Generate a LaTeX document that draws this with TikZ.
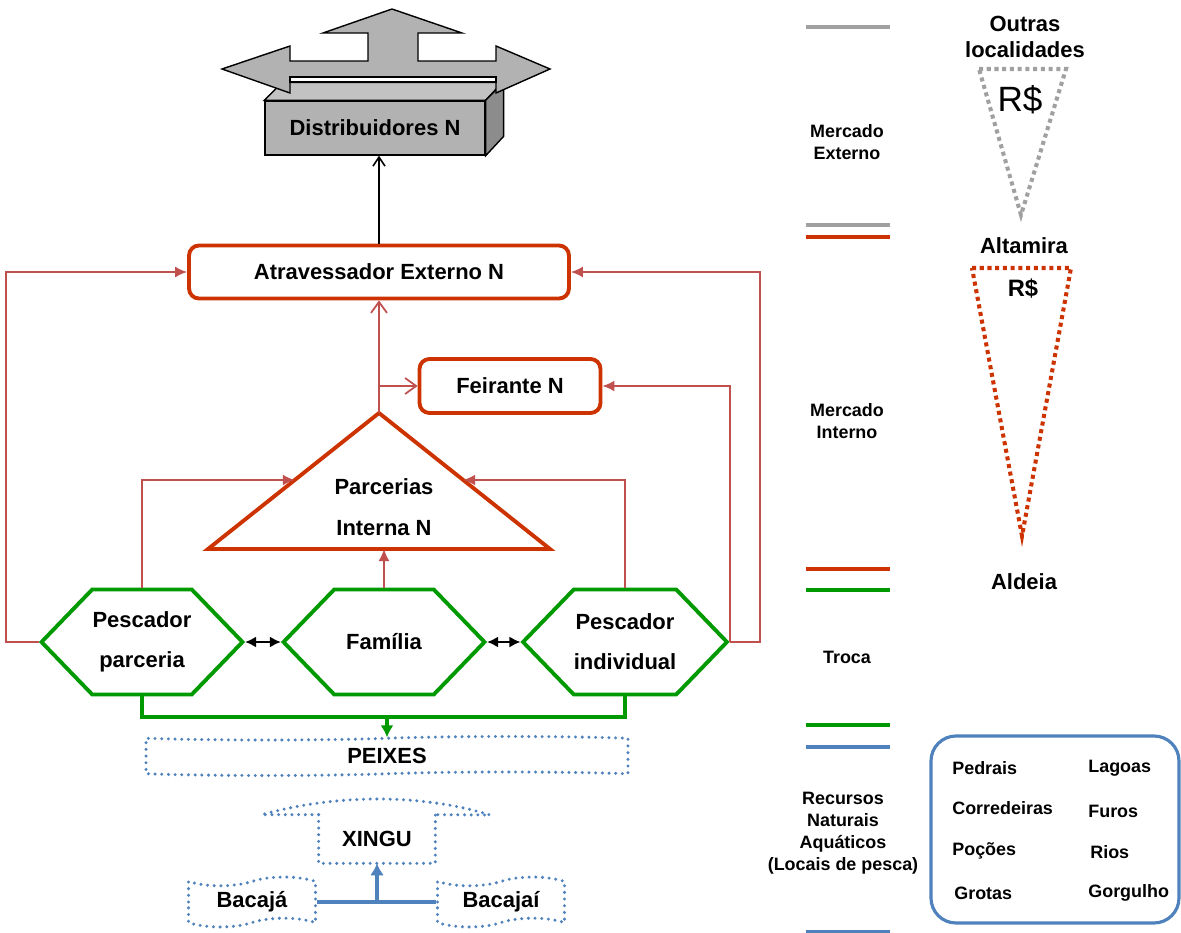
\documentclass[tikz,border=0pt]{standalone}
\usepackage{fontspec}
\setmainfont{Liberation Sans}
\usepackage{xcolor}
\usepackage{tikz}
\usetikzlibrary{arrows.meta,positioning,shapes.symbols,calc}

\definecolor{boxred}{RGB}{204,51,0}
\definecolor{linkred}{RGB}{192,80,77}
\definecolor{fishgreen}{RGB}{0,153,0}
\definecolor{riverblue}{RGB}{79,129,189}
\definecolor{leggrey}{RGB}{160,160,160}
\definecolor{frontgrey}{RGB}{178,178,178}
\definecolor{topgrey}{RGB}{194,194,194}
\definecolor{sidegrey}{RGB}{140,140,140}

\begin{document}
\begin{tikzpicture}[
  x=0.02cm, y=-0.02cm,
  txt/.style={font=\fontsize{12.5}{15}\selectfont\bfseries, align=center},
  small/.style={font=\fontsize{10.2}{12.5}\selectfont\bfseries, align=center},
  redbox/.style={rectangle, rounded corners=0.2cm, draw=boxred, line width=2.2pt, txt},
  hexa/.style={signal, signal to=east and west, signal pointer angle=92, draw=fishgreen, line width=2.2pt,
    minimum width=4.02cm, minimum height=2.1cm, inner sep=0pt, align=center, font=\fontsize{12.5}{22.7}\selectfont\bfseries},
  redline/.style={draw=linkred, line width=1pt},
  fullhead/.style={-{Latex[length=2.4mm,width=2.2mm]}},
  openhead/.style={-{Straight Barb[length=2.2mm,width=3.2mm]}},
  greenline/.style={draw=fishgreen, line width=2.2pt},
  blueline/.style={draw=riverblue, line width=2.2pt},
  bluedot/.style={draw=riverblue, line width=1.9pt, dash pattern=on 0pt off 3.8pt, line cap=round},
  tapebox/.style={tape, bluedot, txt},
  legline/.style={line width=2.6pt},
  bigdot/.style={line width=2.3pt, dash pattern=on 2.3pt off 2.1pt},
  item/.style={small, anchor=west, inner sep=0pt}
]
\useasboundingbox (0,0) rectangle (1181,933);

% distribuidores (caixa 3D + seta tripla)
\node[rectangle, draw, line width=0.8pt, fill=frontgrey, minimum width=4.4cm, minimum height=1.08cm, txt] (dist) at (375,128) {Distribuidores N};
\draw[fill=topgrey, line width=0.8pt] (dist.north west) -- ++(18,-18) -- ++(220,0) -- (dist.north east) -- cycle;
\draw[fill=sidegrey, line width=0.8pt] (dist.north east) -- ++(18,-18) -- ++(0,54) -- (dist.south east) -- cycle;
\draw[fill=frontgrey, line width=0.8pt] (392,9) -- (462,33) -- (418,33) -- (418,61) -- (496,61) -- (496,46) -- (550,69)
  -- (496,93) -- (496,77) -- (290,77) -- (290,93) -- (222,69) -- (290,46) -- (290,61) -- (368,61) -- (368,33) -- (323,33) -- cycle;
\draw[fill=white, line width=0.8pt] (290,77) rectangle (496,82);

% agentes
\node[redbox, minimum width=7.6cm, minimum height=1.06cm] (atrav) at (379,272) {Atravessador Externo N};
\node[redbox, minimum width=3.62cm, minimum height=1.08cm] (feir) at (510,386) {Feirante N};

\coordinate (apex) at (379,413);
\coordinate (bl) at (208,549);
\coordinate (br) at (550,549);
\draw[boxred, line width=2.2pt] (apex) -- (bl) -- (br) -- cycle;
\node[txt, font=\fontsize{12.5}{23}\selectfont\bfseries] (parc) at (384,507) {Parcerias\\Interna N};
\coordinate (tl) at ($(apex)!0.4926!(bl)$);
\coordinate (tr) at ($(apex)!0.4926!(br)$);

\node[hexa] (pp) at (142,642) {Pescador\\parceria};
\node[hexa] (fam) at (384,642) {Família};
\node[hexa] (pi) at (625,642) {Pescador\\individual};

% fluxos
\draw[-{Straight Barb[length=1.8mm,width=2.4mm]}, line width=0.9pt] (atrav.north) -- (atrav.north |- dist.south);
\draw[redline, openhead] (apex) -- (atrav.south);
\draw[redline, openhead] (apex |- feir.west) -- (feir.west);
\draw[redline, fullhead] (pp.west) -- ++(-33,0) |- (atrav.west);
\draw[redline, fullhead] (pi.east) -- ++(30,0) |- (atrav.east);
\draw[redline, fullhead] (pi.east) |- (feir.east);
\draw[redline, fullhead] (pp.north) |- (tl);
\draw[redline, fullhead] (pi.north) |- (tr);
\draw[redline, fullhead] (fam.north) -- (fam.north |- bl);
\draw[{Latex[length=2.2mm,width=2.2mm]}-{Latex[length=2.2mm,width=2.2mm]}, line width=0.9pt] (pp.east) -- (fam.west);
\draw[{Latex[length=2.2mm,width=2.2mm]}-{Latex[length=2.2mm,width=2.2mm]}, line width=0.9pt] (fam.east) -- (pi.west);

% recursos
\node[tapebox, minimum width=9.64cm, minimum height=0.78cm, tape bend height=2pt] (peixes) at (387,756) {PEIXES};
\draw[greenline] (pp.south) -- ++(0,21) coordinate (gl) -| (pi.south);
\draw[greenline, -{Latex[length=2.4mm,width=2.6mm]}] (peixes.north |- gl) -- (peixes.north);

\node[txt, minimum width=2.32cm, minimum height=0.96cm] (xingu) at (377,839) {XINGU};
\draw[bluedot] (xingu.north west) -- (xingu.south west) -- (xingu.south east) -- (xingu.north east);
\draw[bluedot] (xingu.north west) -- ++(-57,0) .. controls (300,804) and (340,799) .. (378,799)
  .. controls (416,799) and (455,804) .. (490,815) -- (xingu.north east);
\node[tapebox, minimum width=2.54cm, minimum height=0.74cm] (bac1) at (252,902) {Bacajá};
\node[tapebox, minimum width=2.54cm, minimum height=0.74cm] (bac2) at (501,902) {Bacajaí};
\draw[blueline] (bac1.east) -- (bac2.west);
\draw[blueline, -{Latex[length=2.4mm,width=2.8mm]}] (bac1.east -| xingu.south) -- (xingu.south);

% legenda
\foreach \y/\c in {27/leggrey, 225/leggrey, 237/boxred, 569/boxred, 590/fishgreen, 725/fishgreen, 747/riverblue, 932/riverblue}
  \draw[legline, draw=\c] (806,\y) -- (890,\y);
\node[small] (mext) at (847,142) {Mercado\\Externo};
\node[small] (mint) at (847,421) {Mercado\\Interno};
\node[small] (troca) at (847,657) {Troca};
\node[small] (recursos) at (843,833) {Recursos\\Naturais\\Aquáticos\\(Locais de pesca)};

\node[txt] (outras) at (1025,37) {Outras\\localidades};
\draw[leggrey, bigdot] (979,69) -- (1066,69) -- (1021,215) -- cycle;
\node[font=\fontsize{20}{24}\selectfont] (rs1) at (1020,100) {R\$};
\node[txt] (altamira) at (1024,246) {Altamira};
\draw[boxred, bigdot] (972,268) -- (1071,268) -- (1022,536) -- cycle;
\node[txt, font=\fontsize{13.5}{16}\selectfont\bfseries] (rs2) at (1023,289) {R\$};
\node[txt] (aldeia) at (1024,582) {Aldeia};

\draw[riverblue, line width=1.8pt, rounded corners=0.5cm] (931,736) rectangle (1179,923);
\node[item] (pedrais) at (952,768) {Pedrais};
\node[item] (corred) at (952,808) {Corredeiras};
\node[item] (pocoes) at (952,851) {Poções};
\node[item] (grotas) at (954,893) {Grotas};
\node[item] (lagoas) at (1088,768) {Lagoas};
\node[item] (furos) at (1088,811) {Furos};
\node[item] (rios) at (1090,852) {Rios};
\node[item] (gorgulho) at (1088,893) {Gorgulho};
\end{tikzpicture}
\end{document}
